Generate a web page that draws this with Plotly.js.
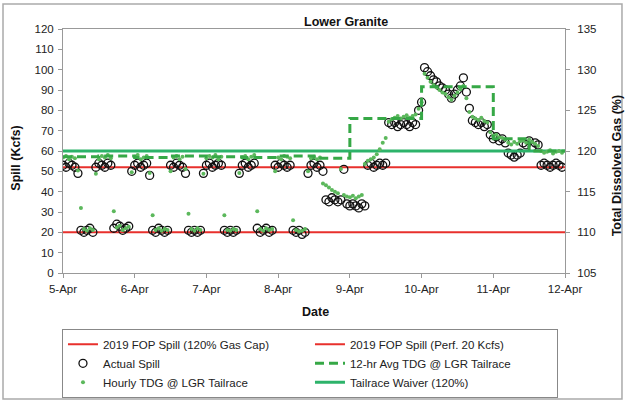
<!DOCTYPE html>
<html>
<head>
<meta charset="utf-8">
<script src="https://cdn.plot.ly/plotly-3.0.1.min.js"></script>
<style>
  html, body { margin: 0; padding: 0; background: #fff; }
  #chart { width: 626px; height: 402px; }
</style>
</head>
<body>
<div id="chart"></div>
<script>
// ---------------- DATA ----------------
const startDate = '2019-04-05 00:00';
const endDate = '2019-04-12 00:00';

// Actual spill (Kcfs), hourly from 5-Apr 00:00 to 11-Apr 23:00
const actualSpill = [
  // 5-Apr
  53, 52, 54, 53, 52, 49, 21, 20, 21, 22, 20, 52, 54, 53, 52, 54, 53, 22, 24, 23, 21, 22, 23, 50,
  // 6-Apr
  53, 54, 52, 53, 54, 48, 21, 20, 22, 21, 20, 21, 53, 52, 54, 53, 52, 49, 21, 20, 21, 20, 21, 49,
  // 7-Apr
  53, 54, 52, 53, 54, 53, 21, 20, 21, 20, 21, 49, 53, 54, 52, 53, 54, 22, 20, 21, 22, 20, 21, 53,
  // 8-Apr
  52, 54, 53, 52, 53, 21, 20, 21, 19, 20, 49, 53, 54, 52, 53, 50, 36, 35, 37, 36, 35, 36, 51, 34,
  // 9-Apr
  33, 34, 33, 32, 34, 33, 53, 54, 52, 53, 54, 53, 54, 74, 73, 74, 72, 73, 74, 73, 72, 74, 73, 80,
  // 10-Apr
  84, 101, 99, 97, 95, 94, 92, 91, 90, 88, 86, 88, 90, 92, 96, 89, 81, 75, 74, 73, 74, 72, 73, 68,
  // 11-Apr
  66, 67, 65, 66, 64, 59, 58, 57, 58, 59, 64, 63, 65, 62, 64, 63, 53, 54, 53, 52, 53, 54, 53, 52
];

// Hourly TDG @ LGR tailrace (%)
const hourlyTdg = [
  // 5-Apr
  119.2, 119.4, 119.0, 119.3, 119.1, 117.6, 113.0, 110.4, 110.2, 110.5, 110.3, 117.2,
  119.0, 119.4, 119.2, 119.5, 119.1, 112.6, 110.6, 110.8, 110.3, 110.5, 110.7, 117.4,
  // 6-Apr
  119.3, 119.5, 119.0, 119.2, 119.4, 117.3, 112.1, 110.3, 110.5, 110.2, 110.4, 110.3,
  117.5, 119.2, 119.4, 119.0, 119.3, 117.8, 112.3, 110.4, 110.2, 110.5, 110.3, 117.2,
  // 7-Apr
  119.1, 119.4, 119.2, 119.5, 119.0, 119.3, 112.1, 110.3, 110.2, 110.4, 110.3, 117.3,
  119.2, 119.4, 119.0, 119.3, 119.5, 112.6, 110.4, 110.2, 110.5, 110.3, 110.4, 117.5,
  // 8-Apr
  119.2, 119.0, 119.4, 119.3, 119.1, 111.5, 110.3, 110.1, 110.2, 110.4, 117.5, 119.1,
  119.3, 119.0, 119.2, 116.0, 115.8, 115.5, 115.2, 115.0, 114.8, 117.8, 114.6, 114.4,
  // 9-Apr
  114.3, 114.5, 114.2, 114.4, 114.6, 118.4, 118.8, 119.0, 119.2, 119.6, 120.2, 121.0,
  121.6, 123.6, 123.9, 124.1, 124.3, 124.0, 124.2, 124.4, 124.1, 124.3, 124.5, 125.2,
  // 10-Apr
  126.0, 129.5, 129.0, 128.5, 128.1, 127.8, 127.5, 127.2, 127.0, 126.6, 126.3, 126.8,
  127.2, 127.6, 128.0, 126.5, 124.8, 124.2, 124.0, 123.8, 124.1, 123.7, 123.5, 122.3,
  // 11-Apr
  121.9, 122.0, 121.7, 121.6, 121.4, 121.0, 120.8, 121.1, 120.9, 121.2, 121.3, 121.0,
  121.4, 121.1, 120.9, 120.6, 120.0, 119.8, 119.9, 120.1, 119.7, 119.9, 120.0, 119.8
];

// 12-hr average TDG @ LGR tailrace (%), one value per 12-hour block start
const avgTimes = [
  '2019-04-05 00:00', '2019-04-05 12:00', '2019-04-06 00:00', '2019-04-06 12:00',
  '2019-04-07 00:00', '2019-04-07 12:00', '2019-04-08 00:00', '2019-04-08 12:00',
  '2019-04-09 00:00', '2019-04-09 12:00', '2019-04-10 00:00', '2019-04-10 12:00',
  '2019-04-11 00:00', '2019-04-11 12:00', '2019-04-12 00:00'
];
const avgTdg = [119.3, 119.4, 119.2, 119.4, 119.3, 119.2, 119.4, 119.1,
                124.0, 124.0, 127.9, 127.9, 121.5, 120.0, 120.0];

const fopGasCapSpill = 52;   // 2019 FOP Spill (120% Gas Cap), Kcfs
const fopPerfSpill = 20;     // 2019 FOP Spill (Perf. 20 Kcfs)
const tailraceWaiver = 120;  // %

const tickDates = ['2019-04-05', '2019-04-06', '2019-04-07', '2019-04-08',
                   '2019-04-09', '2019-04-10', '2019-04-11', '2019-04-12'];
const tickLabels = ['5-Apr', '6-Apr', '7-Apr', '8-Apr', '9-Apr', '10-Apr', '11-Apr', '12-Apr'];

// hourly timestamps
const t0 = new Date('2019-04-05T00:00:00Z').getTime();
const hours = actualSpill.map((_, i) => {
  const d = new Date(t0 + i * 3600000);
  return d.toISOString().slice(0, 16).replace('T', ' ');
});

// ---------------- CHART ----------------
const red = '#e8302c';
const font = 'Liberation Sans, Arial, sans-serif';

const traces = [
  { name: '2019 FOP Spill (120% Gas Cap)', x: [startDate, endDate], y: [fopGasCapSpill, fopGasCapSpill],
    mode: 'lines', line: { color: red, width: 2 }, yaxis: 'y', legendrank: 1 },
  { name: '2019 FOP Spill (Perf. 20 Kcfs)', x: [startDate, endDate], y: [fopPerfSpill, fopPerfSpill],
    mode: 'lines', line: { color: red, width: 2 }, yaxis: 'y', legendrank: 2 },
  { name: 'Tailrace Waiver (120%)', x: [startDate, endDate], y: [tailraceWaiver, tailraceWaiver],
    mode: 'lines', line: { color: '#2db36a', width: 3 }, yaxis: 'y2', legendrank: 6 },
  { name: 'Actual Spill', x: hours, y: actualSpill, mode: 'markers',
    marker: { symbol: 'circle-open', size: 8, color: '#111', line: { width: 1.3 } }, yaxis: 'y', legendrank: 3 },
  { name: 'Hourly TDG @ LGR Tailrace', x: hours, y: hourlyTdg, mode: 'markers',
    marker: { symbol: 'circle', size: 4, color: '#5cb85c' }, yaxis: 'y2', legendrank: 5 },
  { name: '12-hr Avg TDG @ LGR Tailrace', x: avgTimes, y: avgTdg, mode: 'lines',
    line: { color: '#36a846', width: 3, dash: '9px,5px', shape: 'hv' }, yaxis: 'y2', legendrank: 4 }
];

const axisFont = { family: font, size: 11.5, color: '#222' };
const titleFont = { family: font, size: 12.5, color: '#111', weight: 'bold' };

const layout = {
  width: 626, height: 402,
  margin: { l: 63, r: 61, t: 29, b: 129 },
  paper_bgcolor: '#fff', plot_bgcolor: '#fff',
  font: { family: font, size: 11.5, color: '#222' },
  showlegend: true,
  title: { text: 'Lower Granite', font: { family: font, size: 12.5, color: '#111', weight: 'bold' },
           x: 0.564, xanchor: 'center', xref: 'paper', y: 0.946, yanchor: 'middle', automargin: false },
  xaxis: {
    type: 'date', range: [startDate, endDate], automargin: false,
    tickvals: tickDates, ticktext: tickLabels, tickfont: axisFont,
    ticks: 'outside', ticklen: 4, tickcolor: '#999', ticklabelstandoff: 1,
    showline: true, linecolor: '#999', linewidth: 1, mirror: true,
    showgrid: false, zeroline: false
  },
  yaxis: {
    range: [0, 120], dtick: 10, tickfont: axisFont, automargin: false,
    ticks: 'outside', ticklen: 4, tickcolor: '#999', ticklabelstandoff: 2,
    showline: true, linecolor: '#999', linewidth: 1, mirror: true,
    showgrid: false, zeroline: false
  },
  yaxis2: {
    range: [105, 135], dtick: 5, tickfont: axisFont, overlaying: 'y', side: 'right', automargin: false,
    ticks: 'outside', ticklen: 4, tickcolor: '#999', ticklabelstandoff: 5,
    showline: true, linecolor: '#999', linewidth: 1,
    showgrid: false, zeroline: false
  },
  annotations: [
    { text: 'Spill (Kcfs)', textangle: -90, xref: 'paper', yref: 'paper', x: -0.093, y: 0.47,
      xanchor: 'center', yanchor: 'middle', showarrow: false, font: titleFont },
    { text: 'Total Dissolved Gas (%)', textangle: -90, xref: 'paper', yref: 'paper', x: 1.103, y: 0.44,
      xanchor: 'center', yanchor: 'middle', showarrow: false, font: titleFont },
    { text: 'Date', xref: 'paper', yref: 'paper', x: 0.503, y: -0.16,
      xanchor: 'center', yanchor: 'middle', showarrow: false, font: titleFont }
  ],
  legend: {
    orientation: 'h', xref: 'container', x: 0.099, xanchor: 'left',
    yref: 'container', y: 0.182, yanchor: 'top',
    bordercolor: '#888', borderwidth: 1, bgcolor: '#fff',
    font: { family: font, size: 11.5, color: '#222' },
    entrywidth: 202, entrywidthmode: 'pixels', itemwidth: 30
  },
  shapes: [
    { type: 'rect', xref: 'paper', yref: 'paper', x0: -0.1195, x1: 1.1135, y0: -0.516, y1: 1.1025,
      line: { color: '#aaa', width: 1.5 }, fillcolor: 'rgba(0,0,0,0)', layer: 'below' }
  ]
};

Plotly.newPlot('chart', traces, layout, { staticPlot: true, displayModeBar: false });
</script>
</body>
</html>
